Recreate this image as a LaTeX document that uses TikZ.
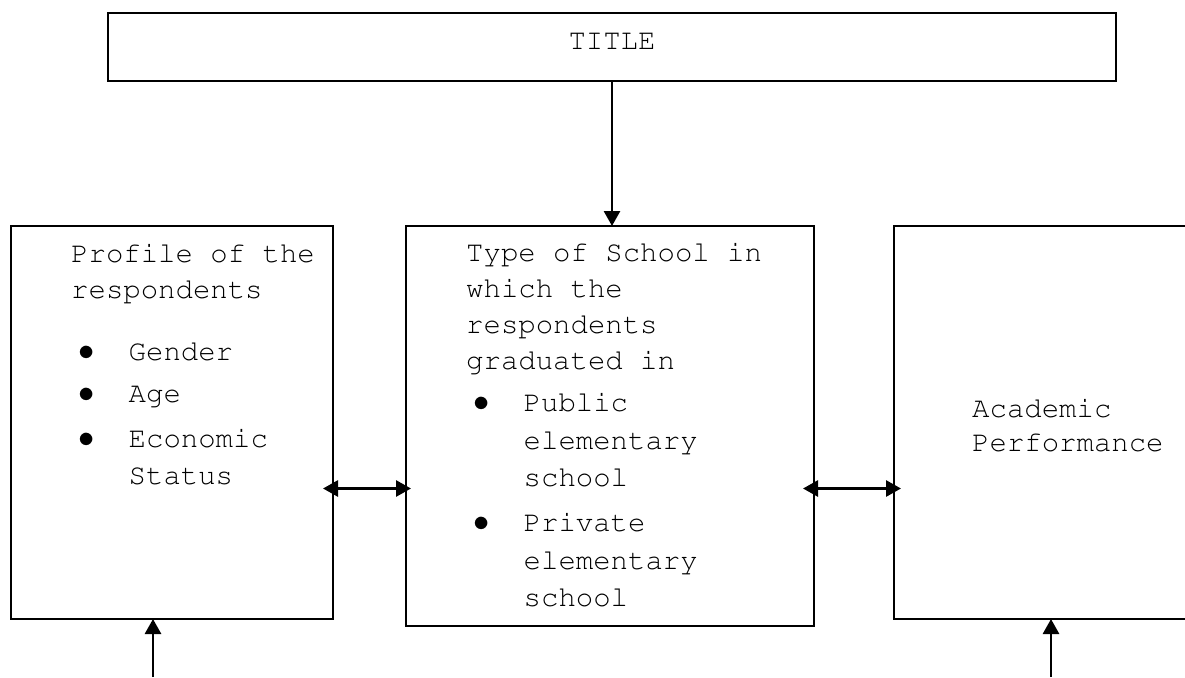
\documentclass[tikz,border=0pt]{standalone}
\usepackage[T1]{fontenc}
\renewcommand{\rmdefault}{pcr}
\usetikzlibrary{arrows.meta}
\newcommand{\bul}{\makebox[57.5pt][l]{\hspace*{7pt}\scalebox{1.3}{$\bullet$}}}
\newcommand{\ind}{\hspace*{57.5pt}}
\tikzset{
  box/.style={draw, line width=1.6pt, inner sep=0pt, outer sep=0pt, anchor=north west},
  txt/.style={inner sep=0pt, anchor=base west, align=left, font=\fontsize{29}{36}\selectfont},
  link/.style={line width=2.8pt, -{Triangle[length=15pt,width=16pt]}},
  both/.style={line width=2.8pt, {Triangle[length=15pt,width=16pt]}-{Triangle[length=15pt,width=16pt]}}
}

\begin{document}
\begin{tikzpicture}[x=1pt, y=-1pt]
    \useasboundingbox (0,0) rectangle (1185,677);
    % boxes
    \node [box, line width=2pt, minimum width=1008pt, minimum height=68pt] (title) at (108,13) {};
    \node [box, minimum width=322pt, minimum height=393pt] (prof) at (11,226) {};
    \node [box, minimum width=408pt, minimum height=400pt] (school) at (406,226) {};
    \node [box, minimum width=314pt, minimum height=393pt] (perf) at (894,226) {};
    % texts, placed by the baseline of their last line
    \node [txt, anchor=base] (titlet) at (612,49) {TITLE};
    \node [txt] (proft) at (71,484) {Profile of the\\respondents\\[26pt]
      \bul Gender\\[6pt]\bul Age\\[9pt]\bul Economic\\[1pt]\ind Status};
    \node [txt] (schoolt) at (466,606) {Type of School in\\which the\\respondents\\graduated in\\[6pt]
      \bul Public\\[2pt]\ind elementary\\[1pt]\ind school\\[9pt]
      \bul Private\\[2pt]\ind elementary\\[1pt]\ind school};
    \node [txt] (perft) at (972,451) {Academic\\[-2pt]Performance};
    % arrows
    \draw [link] (title.south) -- (title.south |- school.north);
    \draw [both, shorten <=-10pt, shorten >=-5pt] ([yshift=-66pt]prof.east) -- ([yshift=-66pt]prof.east -| school.west);
    \draw [both, shorten <=-11pt, shorten >=-7pt] ([yshift=-66pt]perf.west -| school.east) -- ([yshift=-66pt]perf.west);
    \coordinate (pfoot) at (153,677);% free ends below the page
    \coordinate (afoot) at (1051,677);
    \draw [link] (pfoot) -- (pfoot |- prof.south);
    \draw [link] (afoot) -- (afoot |- perf.south);
\end{tikzpicture}
\end{document}
